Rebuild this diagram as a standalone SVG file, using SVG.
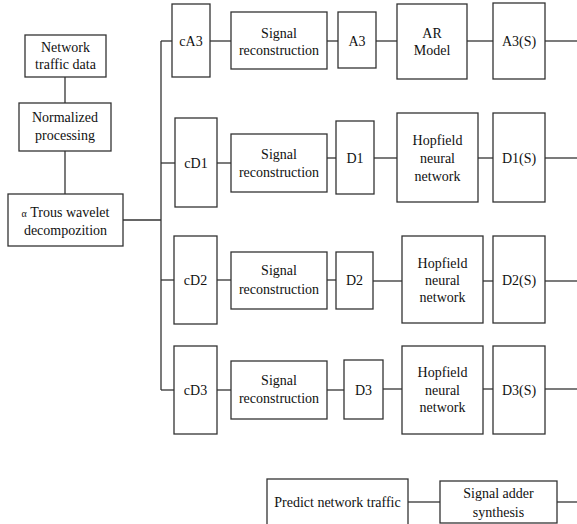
<svg xmlns="http://www.w3.org/2000/svg" width="577" height="524" viewBox="0 0 577 524">
<style>
rect{fill:#fff;stroke:#333;stroke-width:1.3}
text{font-size:14px;fill:#111;text-anchor:middle}
#connectors line{stroke:#333;stroke-width:1.3}
</style>
<rect x="0" y="0" width="577" height="524" style="stroke:none"/>
<g id="connectors">
<line x1="65" y1="77" x2="65" y2="103"/>
<line x1="65" y1="151" x2="65" y2="194"/>
<line x1="123" y1="220" x2="161" y2="220"/>
<line x1="161" y1="41" x2="161" y2="390"/>
<line x1="161" y1="41" x2="172" y2="41"/>
<line x1="210" y1="41" x2="231" y2="41"/>
<line x1="327" y1="41" x2="338" y2="41"/>
<line x1="376" y1="41" x2="397" y2="41"/>
<line x1="467" y1="41" x2="493" y2="41"/>
<line x1="545" y1="41" x2="577" y2="41"/>
<line x1="161" y1="163" x2="175" y2="163"/>
<line x1="217" y1="163" x2="231" y2="163"/>
<line x1="327" y1="158" x2="336" y2="158"/>
<line x1="374" y1="158" x2="397" y2="158"/>
<line x1="478" y1="158" x2="493" y2="158"/>
<line x1="545" y1="158" x2="577" y2="158"/>
<line x1="161" y1="280" x2="174" y2="280"/>
<line x1="217" y1="280" x2="231" y2="280"/>
<line x1="327" y1="280" x2="336" y2="280"/>
<line x1="373" y1="281" x2="402" y2="281"/>
<line x1="483" y1="281" x2="493" y2="281"/>
<line x1="545" y1="281" x2="577" y2="281"/>
<line x1="161" y1="390" x2="174" y2="390"/>
<line x1="217" y1="390" x2="231" y2="390"/>
<line x1="327" y1="390" x2="344" y2="390"/>
<line x1="383" y1="389" x2="402" y2="389"/>
<line x1="483" y1="389" x2="493" y2="389"/>
<line x1="545" y1="389" x2="577" y2="389"/>
<line x1="408" y1="502" x2="440" y2="502"/>
<line x1="557" y1="502" x2="577" y2="502"/>
</g>
<g font-family="Liberation Serif, Times New Roman, serif">
<g id="network-data"><rect x="25" y="35" width="81" height="42"/><text x="65.5" y="52">Network</text><text x="65.5" y="69">traffic data</text></g>
<g id="normalized"><rect x="19" y="103" width="92" height="48"/><text x="65" y="122">Normalized</text><text x="65" y="140">processing</text></g>
<g id="trous"><rect x="8" y="194" width="115" height="52"/><text x="65.5" y="217"><tspan font-size="10">α</tspan> Trous wavelet</text><text x="65.5" y="235">decompozition</text></g>
<g id="cA3"><rect x="172" y="4" width="38" height="73"/><text x="191" y="46">cA3</text></g>
<g id="sr0"><rect x="231" y="12" width="96" height="57"/><text x="279" y="38">Signal</text><text x="279" y="55">reconstruction</text></g>
<g id="A3"><rect x="338" y="12" width="38" height="56"/><text x="357" y="46">A3</text></g>
<g id="AR"><rect x="397" y="4" width="70" height="75"/><text x="432" y="38">AR</text><text x="432" y="55">Model</text></g>
<g id="A3S"><rect x="493" y="3" width="52" height="76"/><text x="519" y="46">A3(S)</text></g>
<g id="cD1"><rect x="175" y="118" width="42" height="89"/><text x="196" y="168">cD1</text></g>
<g id="sr1"><rect x="231" y="134" width="96" height="58"/><text x="279" y="159">Signal</text><text x="279" y="177">reconstruction</text></g>
<g id="D1"><rect x="336" y="121" width="38" height="73"/><text x="355" y="163">D1</text></g>
<g id="hop1"><rect x="397" y="113" width="81" height="89"/><text x="437.5" y="145">Hopfield</text><text x="437.5" y="163">neural</text><text x="437.5" y="181">network</text></g>
<g id="D1S"><rect x="493" y="113" width="52" height="89"/><text x="519" y="163">D1(S)</text></g>
<g id="cD2"><rect x="174" y="236" width="43" height="88"/><text x="195.5" y="285">cD2</text></g>
<g id="sr2"><rect x="231" y="252" width="96" height="57"/><text x="279" y="275">Signal</text><text x="279" y="294">reconstruction</text></g>
<g id="D2"><rect x="336" y="252" width="37" height="57"/><text x="354.5" y="285">D2</text></g>
<g id="hop2"><rect x="402" y="236" width="81" height="87"/><text x="442.5" y="268">Hopfield</text><text x="442.5" y="285">neural</text><text x="442.5" y="302">network</text></g>
<g id="D2S"><rect x="493" y="236" width="52" height="87"/><text x="519" y="285">D2(S)</text></g>
<g id="cD3"><rect x="174" y="346" width="43" height="88"/><text x="195.5" y="395">cD3</text></g>
<g id="sr3"><rect x="231" y="361" width="96" height="58"/><text x="279" y="385">Signal</text><text x="279" y="403">reconstruction</text></g>
<g id="D3"><rect x="344" y="360" width="39" height="59"/><text x="363.5" y="395">D3</text></g>
<g id="hop3"><rect x="402" y="346" width="81" height="88"/><text x="442.5" y="377">Hopfield</text><text x="442.5" y="395">neural</text><text x="442.5" y="412">network</text></g>
<g id="D3S"><rect x="493" y="346" width="52" height="88"/><text x="519" y="395">D3(S)</text></g>
<g id="predict"><rect x="267" y="479" width="141" height="50"/><text x="337.5" y="507">Predict network traffic</text></g>
<g id="adder"><rect x="440" y="481" width="117" height="42"/><text x="498.5" y="498">Signal adder</text><text x="498.5" y="517">synthesis</text></g>
</g>
</svg>
